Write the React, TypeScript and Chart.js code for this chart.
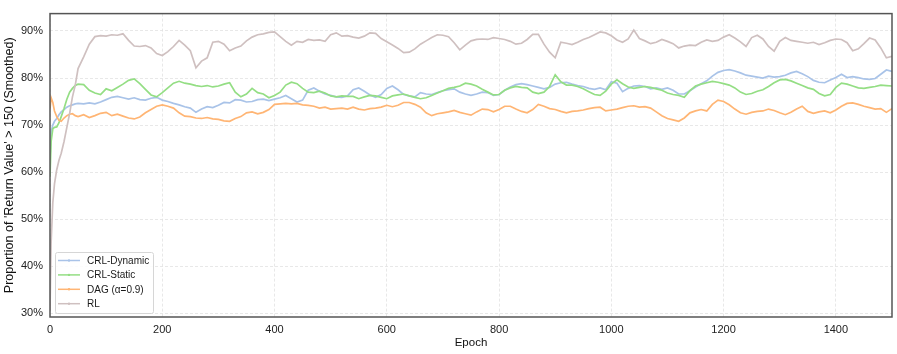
import React, { useEffect, useRef } from 'react';
import { Chart, registerables } from 'chart.js';

Chart.register(...registerables);

const FONT = '"Liberation Sans", Arial, Helvetica, sans-serif';

// x grid: fine steps at the very start, then every 10 epochs
const EARLY_EPOCHS = [0, 2, 5, 8, 12, 16, 20, 25, 30, 35, 40, 45, 50];
const REGULAR_EPOCHS = Array.from({ length: 145 }, (_, i) => 60 + i * 10);
const EPOCHS = [...EARLY_EPOCHS, ...REGULAR_EPOCHS];

const X_TICKS = [0, 200, 400, 600, 800, 1000, 1200, 1400];
const Y_TICKS = [30, 40, 50, 60, 70, 80, 90];

const SERIES_NAMES = ['CRL-Dynamic', 'CRL-Static', 'DAG (α=0.9)', 'RL'];
const SERIES_COLORS = ['#a9c3e8', '#94de84', '#ffb574', '#cfc0c0'];

const CRL_DYNAMIC = [
  63.0, 68.5, 70.0, 70.8, 71.4, 72.2, 72.8, 73.3, 73.8, 74.1, 74.3, 74.5, 74.6,
  74.5, 74.7, 74.5, 74.9, 75.4, 75.9, 76.1, 75.8, 75.5, 75.8,
  75.4, 75.3, 75.7, 75.9, 75.3, 75.0, 74.6, 74.3, 73.9, 73.6,
  72.7, 73.4, 73.9, 73.7, 74.2, 74.8, 74.7, 75.4, 75.3, 74.9,
  75.0, 75.4, 75.5, 75.2, 75.5, 75.8, 76.3, 75.6, 74.9, 75.3,
  77.4, 77.9, 77.2, 76.6, 76.3, 76.0, 75.9, 76.2, 77.5, 77.9,
  77.2, 76.4, 75.9, 76.5, 77.8, 78.3, 77.5, 76.5, 76.2, 76.0,
  76.9, 76.6, 76.5, 76.9, 77.3, 77.5, 77.7, 77.0, 76.6, 76.3,
  76.6, 77.0, 76.9, 76.3, 76.5, 77.4, 78.1, 78.6, 78.8, 78.6,
  78.3, 78.0, 77.7, 78.0, 78.7, 79.0, 79.1, 78.7, 78.4, 78.2,
  77.8, 77.6, 77.9, 77.5, 79.2, 78.9, 77.1, 77.8, 78.3, 78.4,
  78.2, 77.7, 77.9, 77.6, 77.9, 77.4, 76.6, 76.6, 77.3, 78.1,
  78.8, 79.4, 80.4, 81.2, 81.6, 81.8, 81.5, 81.1, 80.6, 80.4,
  80.2, 80.0, 80.4, 80.2, 80.3, 80.6, 81.1, 81.4, 80.9, 80.3,
  79.5, 79.1, 79.0, 79.6, 80.1, 80.8, 80.1, 80.3, 80.1, 79.8,
  79.7, 79.9, 80.8, 81.7, 81.4,
];

const CRL_STATIC = [
  59.0, 66.5, 69.2, 69.5, 69.6, 70.5, 71.8, 73.5, 75.5, 77.0, 77.8, 78.4, 78.7,
  78.6, 77.4, 76.8, 76.5, 77.7, 77.3, 78.0, 78.7, 79.5, 79.8,
  78.8, 77.6, 76.4, 76.0, 76.9, 77.9, 78.9, 79.3, 78.9, 78.7,
  78.4, 78.2, 78.4, 78.1, 78.3, 78.7, 79.0, 77.0, 76.0, 76.6,
  77.8, 76.9, 76.6, 75.8, 76.3, 77.0, 78.5, 79.1, 78.8, 77.8,
  77.0, 76.9, 77.2, 76.8, 76.2, 76.0, 76.2, 76.1, 76.1, 75.6,
  76.0, 76.3, 76.2, 75.9, 75.6, 76.2, 76.4, 76.6, 76.2, 75.9,
  75.6, 75.8, 76.3, 76.8, 77.3, 77.8, 78.0, 78.3, 78.9, 78.7,
  78.3, 77.6, 77.0, 76.4, 76.5, 77.4, 77.9, 78.2, 78.0, 77.9,
  77.0, 76.7, 77.0, 78.2, 80.7, 79.2, 78.5, 78.5, 78.2, 77.7,
  77.1, 76.5, 76.3, 77.2, 78.7, 79.6, 78.8, 78.1, 77.8, 78.0,
  78.2, 78.0, 77.7, 77.4, 76.8, 76.5, 76.3, 75.9, 77.3, 78.3,
  78.7, 79.0, 79.3, 79.1, 78.8, 78.5, 77.9, 77.0, 76.5, 76.7,
  77.2, 77.5, 78.2, 79.0, 79.6, 79.7, 79.4, 78.9, 78.4, 77.9,
  77.6, 76.7, 76.2, 76.5, 78.0, 78.9, 78.7, 78.3, 77.9, 77.8,
  78.0, 78.2, 78.5, 78.4, 78.3,
];

const DAG = [
  73.5, 75.8, 74.8, 73.0, 71.8, 71.0, 70.8, 71.5, 72.0, 72.3, 72.4, 72.0, 71.8,
  72.2, 71.6, 72.0, 72.5, 72.7, 72.0, 72.3, 71.9, 71.5, 71.3,
  71.7, 72.6, 73.3, 74.0, 74.3, 74.0, 73.6, 72.6, 71.9, 71.8,
  71.5, 71.4, 71.6, 71.3, 71.2, 70.9, 70.8, 71.4, 71.8, 72.6,
  72.8, 72.4, 72.7, 73.3, 74.4, 74.5, 74.6, 74.5, 74.6, 74.3,
  74.2, 74.0, 73.6, 73.8, 73.4, 73.5, 73.6, 73.4, 73.8, 73.4,
  73.2, 73.5, 73.6, 73.8, 74.2, 73.9, 74.2, 74.8, 74.8, 74.4,
  73.8, 72.6, 72.0, 72.4, 72.6, 72.8, 73.1, 72.7, 72.4, 72.1,
  72.8, 73.4, 73.3, 72.8, 73.3, 74.0, 74.0, 73.4, 72.9, 72.6,
  73.3, 74.4, 74.0, 73.5, 73.3, 72.9, 72.6, 72.9, 73.0, 73.2,
  73.5, 73.7, 73.8, 73.0, 73.2, 73.4, 73.7, 74.0, 74.1, 73.8,
  73.9, 73.6, 72.8, 72.0, 71.4, 71.1, 70.8, 71.5, 72.6, 73.0,
  73.3, 73.0, 74.4, 75.3, 75.0, 74.3, 73.4, 72.6, 72.3, 72.7,
  72.9, 73.0, 73.4, 73.1, 72.6, 72.2, 72.7, 73.4, 74.0, 72.9,
  72.5, 72.8, 73.0, 72.6, 73.2, 74.0, 74.6, 74.7, 74.4, 74.0,
  73.7, 73.4, 73.5, 72.7, 73.5,
];

const RL = [
  30.5, 45.0, 53.5, 57.5, 60.5, 62.5, 64.0, 66.5, 69.5, 72.5, 76.0, 78.5, 82.0,
  84.5, 87.2, 88.8, 89.0, 88.9, 89.2, 89.1, 89.4, 88.0, 86.8,
  86.7, 86.9, 86.4, 85.2, 84.8, 85.6, 86.7, 88.0, 87.0, 85.8,
  82.2, 83.6, 84.3, 87.6, 87.8, 87.2, 85.8, 86.4, 86.8, 87.9,
  88.7, 89.2, 89.4, 89.7, 89.8, 88.8, 87.8, 87.0, 87.8, 87.6,
  88.2, 88.0, 88.1, 87.8, 89.2, 89.6, 88.9, 89.0, 88.7, 88.5,
  88.9, 89.6, 89.5, 88.4, 87.7, 87.0, 86.3, 85.4, 85.5, 86.2,
  87.2, 87.9, 88.6, 89.2, 89.1, 88.8, 87.5, 86.0, 87.0, 87.9,
  88.2, 88.3, 88.2, 88.6, 88.4, 88.2, 87.8, 87.2, 87.4, 88.2,
  89.3, 89.3, 87.2, 85.5, 84.3, 87.6, 87.4, 87.1, 87.6, 88.2,
  88.6, 89.2, 89.8, 89.6, 89.0, 88.1, 87.6, 88.3, 90.2, 88.4,
  87.9, 87.3, 87.6, 88.2, 87.8, 87.3, 86.4, 86.8, 87.0, 86.9,
  87.6, 88.1, 87.8, 88.0, 88.7, 89.2, 88.5, 87.7, 86.7, 88.6,
  89.1, 88.3, 86.7, 85.7, 87.8, 88.6, 88.0, 87.8, 87.6, 87.4,
  87.6, 87.1, 87.5, 88.0, 88.3, 88.2, 87.5, 85.8, 86.2, 87.3,
  88.5, 88.1, 86.4, 84.3, 84.6,
];

const SERIES_VALUES = [CRL_DYNAMIC, CRL_STATIC, DAG, RL];

const framePlugin = {
  id: 'frameAndLegend',
  afterDatasetsDraw(chart: any) {
    const { ctx, chartArea: a } = chart;
    ctx.save();
    // legend box (lower-left, inside plot)
    const bx = a.left + 5;
    const bw = 98;
    const bh = 61;
    const by = a.bottom - 4 - bh;
    ctx.fillStyle = 'rgba(255,255,255,0.85)';
    ctx.strokeStyle = '#d6d6d6';
    ctx.lineWidth = 1;
    ctx.beginPath();
    if (ctx.roundRect) ctx.roundRect(bx + 0.5, by + 0.5, bw, bh, 2);
    else ctx.rect(bx + 0.5, by + 0.5, bw, bh);
    ctx.fill();
    ctx.stroke();
    const rowH = 14.4;
    ctx.font = `10px ${FONT}`;
    ctx.textBaseline = 'middle';
    ctx.textAlign = 'left';
    chart.data.datasets.forEach((ds: any, i: number) => {
      const cy = by + 8.5 + i * rowH;
      ctx.strokeStyle = ds.borderColor;
      ctx.lineWidth = 1.5;
      ctx.beginPath();
      ctx.moveTo(bx + 3, cy);
      ctx.lineTo(bx + 25, cy);
      ctx.stroke();
      ctx.fillStyle = ds.borderColor;
      ctx.beginPath();
      ctx.arc(bx + 14, cy, 1.2, 0, Math.PI * 2);
      ctx.fill();
      ctx.fillStyle = '#1a1a1a';
      ctx.fillText(ds.label, bx + 32, cy + 0.5);
    });
    // frame
    ctx.strokeStyle = '#555555';
    ctx.lineWidth = 1.5;
    ctx.strokeRect(a.left, a.top, a.right - a.left, a.bottom - a.top);
    ctx.restore();
  },
};

export default function App() {
  const ref = useRef<HTMLCanvasElement | null>(null);

  useEffect(() => {
    if (!ref.current) return;
    const datasets = SERIES_NAMES.map((name, i) => ({
      label: name,
      data: EPOCHS.map((x, j) => ({ x, y: SERIES_VALUES[i][j] })),
      borderColor: SERIES_COLORS[i],
      backgroundColor: SERIES_COLORS[i],
      borderWidth: 1.7,
      pointRadius: 0,
      tension: 0,
      fill: false,
      order: SERIES_NAMES.length - i,
    }));
    const chart = new Chart(ref.current, {
      type: 'line',
      data: { datasets },
      plugins: [framePlugin],
      options: {
        animation: false,
        responsive: false,
        devicePixelRatio: 1,
        layout: { padding: { top: 4, right: 5, left: 0, bottom: 0 } },
        plugins: { legend: { display: false }, tooltip: { enabled: false } },
        scales: {
          x: {
            type: 'linear',
            min: 0,
            max: 1500,
            afterBuildTicks: (s: any) => {
              s.ticks = X_TICKS.map((v) => ({ value: v }));
            },
            afterFit: (s: any) => {
              s.height = 37;
            },
            border: { display: false, dash: [3, 2] },
            grid: { color: '#e2e2e2', lineWidth: 0.8, drawTicks: false },
            ticks: {
              font: { family: FONT, size: 11 },
              color: '#222',
              padding: 6,
              maxRotation: 0,
              callback: (v: any) => String(v),
            },
            title: {
              display: true,
              text: 'Epoch',
              font: { family: FONT, size: 11.5 },
              color: '#111',
              padding: { top: 0, bottom: 4 },
            },
          },
          y: {
            type: 'linear',
            min: 29.18,
            max: 93.7,
            afterBuildTicks: (s: any) => {
              s.ticks = Y_TICKS.map((v) => ({ value: v }));
            },
            afterFit: (s: any) => {
              s.width = 50;
            },
            border: { display: false, dash: [3, 2] },
            grid: { color: '#e2e2e2', lineWidth: 0.8, drawTicks: false },
            ticks: {
              font: { family: FONT, size: 11 },
              color: '#222',
              padding: 7,
              callback: (v: any) => `${v}%`,
            },
            title: {
              display: true,
              text: "Proportion of 'Return Value' > 150 (Smoothed)",
              font: { family: FONT, size: 12.5 },
              color: '#111',
              padding: { top: 2, bottom: 0 },
            },
          },
        },
      },
    });
    return () => chart.destroy();
  }, []);

  return (
    <div style={{ position: 'fixed', left: 0, top: 0, width: 897, height: 354, background: '#fff' }}>
      <canvas ref={ref} width={897} height={354} style={{ display: 'block' }} />
    </div>
  );
}
